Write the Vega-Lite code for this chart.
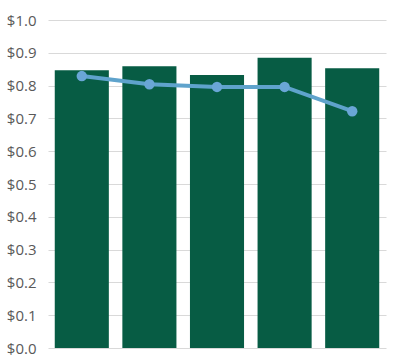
{
  "$schema": "https://vega.github.io/schema/vega-lite/v6.json",
  "width": 338,
  "height": 328,
  "autosize": "none",
  "padding": {"left": 48, "top": 20, "right": 33, "bottom": 12},
  "config": {
    "view": {"stroke": null},
    "font": "Open Sans",
    "axisY": {"labelOverlap": false, "labelBound": false, "title": null, "domain": false, "ticks": false, "labelPadding": 12, "labelFontSize": 15, "labelFontWeight": 400, "labelColor": "#595959", "gridColor": "#d9d9d9", "gridWidth": 1, "labelFont": "Open Sans"}
  },
  "data": {"values": [
    {"cat": "1", "bar": 0.847, "line": 0.829},
    {"cat": "2", "bar": 0.859, "line": 0.804},
    {"cat": "3", "bar": 0.832, "line": 0.796},
    {"cat": "4", "bar": 0.885, "line": 0.796},
    {"cat": "5", "bar": 0.853, "line": 0.722}
  ]},
  "encoding": {
    "x": {"field": "cat", "type": "nominal", "scale": {"paddingInner": 0.2, "paddingOuter": 0.1}, "axis": null}
  },
  "layer": [
    {
      "mark": {"type": "bar", "color": "#075C44"},
      "encoding": {
        "y": {"field": "bar", "type": "quantitative", "scale": {"domain": [0, 1]},
          "axis": {"format": "$.1f", "values": [0,0.1,0.2,0.3,0.4,0.5,0.6,0.7,0.8,0.9,1.0], "title": null}}
      }
    },
    {
      "mark": {"type": "line", "color": "#5FA3CC", "strokeWidth": 4, "point": {"filled": true, "size": 110, "color": "#6AA6D6"}},
      "encoding": {
        "y": {"field": "line", "type": "quantitative",
          "axis": {"format": "$.1f", "values": [0,0.1,0.2,0.3,0.4,0.5,0.6,0.7,0.8,0.9,1.0], "title": null}}
      }
    }
  ]
}
